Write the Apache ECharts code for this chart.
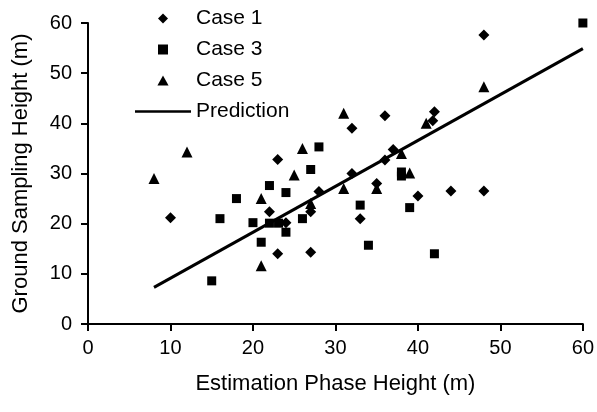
<!DOCTYPE html>
<html>
<head>
<meta charset="utf-8">
<script src="https://cdn.jsdelivr.net/npm/echarts@6/dist/echarts.min.js"></script>
<style>
  html, body { margin: 0; padding: 0; background: #fff; }
  #main { width: 597px; height: 412px; }
</style>
</head>
<body>
<div id="main"></div>
<script>
// [estimation phase height, ground sampling height]
const case1 = [
  [10, 21.2], [23, 32.8], [32, 39], [36, 41.5], [42, 42.3], [41.8, 40.5],
  [48, 57.6], [37, 34.8], [36, 32.7], [22, 22.4], [24, 20.2], [23, 14],
  [28, 26.4], [27, 22.4], [27, 14.3], [33, 21], [32, 30], [35, 28],
  [40, 25.5], [44, 26.5], [48, 26.5]
]
const case3 = [
  [16, 21], [18, 25], [15, 8.6], [20, 20.2], [22, 27.6], [24, 26.2],
  [22, 20.1], [23.1, 20.1], [24, 18.3], [21, 16.3], [26, 21], [28, 35.3],
  [27, 30.8], [33, 23.7], [34, 15.7], [38, 30.3], [38, 29.5], [39, 23.2],
  [42, 14], [60, 60]
]
const case5 = [
  [8, 29], [12, 34.3], [21, 25], [21, 11.6], [25, 29.7], [26, 35],
  [27, 24], [31, 42], [31, 27], [35, 27], [38, 34], [39, 30.1],
  [41, 40], [48, 47.3]
]
const prediction = [[8, 7.3], [60, 54.9]]

const font = 'Liberation Sans, Arial, sans-serif'

const chart = echarts.init(document.getElementById('main'))

const axisCommon = {
  min: 0,
  max: 60,
  interval: 10,
  splitLine: { show: false },
  axisLine: { lineStyle: { color: '#000', width: 2 } },
  axisTick: { inside: false, length: 7, lineStyle: { color: '#000', width: 2 } },
  axisLabel: { color: '#000', fontSize: 20, fontFamily: font },
  nameLocation: 'middle',
  nameTextStyle: { color: '#000', fontSize: 22, fontFamily: font }
}

const option = {
  animation: false,
  textStyle: { fontFamily: font },
  grid: { left: 88, right: 14, top: 23, bottom: 88 },
  legend: {
    orient: 'vertical',
    left: 135,
    top: 8,
    padding: 0,
    itemWidth: 56,
    itemHeight: 10,
    itemGap: 10,
    textStyle: { color: '#000', fontSize: 21, fontFamily: font },
    data: [
      { name: 'Case 1', icon: 'path://M5,0 L10,5 L5,10 L0,5 Z' },
      { name: 'Case 3', icon: 'path://M0,0 L8,0 L8,8 L0,8 Z' },
      { name: 'Case 5', icon: 'path://M5,0 L10,9 L0,9 Z' },
      { name: 'Prediction', icon: 'path://M0,0 L56,0 L56,2.5 L0,2.5 Z' }
    ]
  },
  xAxis: Object.assign({}, axisCommon, {
    type: 'value',
    name: 'Estimation Phase Height (m)',
    nameGap: 49,
    axisLabel: Object.assign({}, axisCommon.axisLabel, { margin: 14 })
  }),
  yAxis: Object.assign({}, axisCommon, {
    type: 'value',
    name: 'Ground Sampling Height (m)',
    nameGap: 56,
    axisLabel: Object.assign({}, axisCommon.axisLabel, { margin: 16 })
  }),
  series: [
    {
      name: 'Case 1',
      type: 'scatter',
      symbol: 'diamond',
      symbolSize: 11,
      itemStyle: { color: '#000', opacity: 1 },
      data: case1
    },
    {
      name: 'Case 3',
      type: 'scatter',
      symbol: 'rect',
      symbolSize: 9,
      itemStyle: { color: '#000', opacity: 1 },
      data: case3
    },
    {
      name: 'Case 5',
      type: 'scatter',
      symbol: 'triangle',
      symbolSize: 11,
      itemStyle: { color: '#000', opacity: 1 },
      data: case5
    },
    {
      name: 'Prediction',
      type: 'line',
      symbol: 'none',
      lineStyle: { color: '#000', width: 3 },
      itemStyle: { color: '#000' },
      data: prediction
    }
  ]
}

chart.setOption(option)
</script>
</body>
</html>
